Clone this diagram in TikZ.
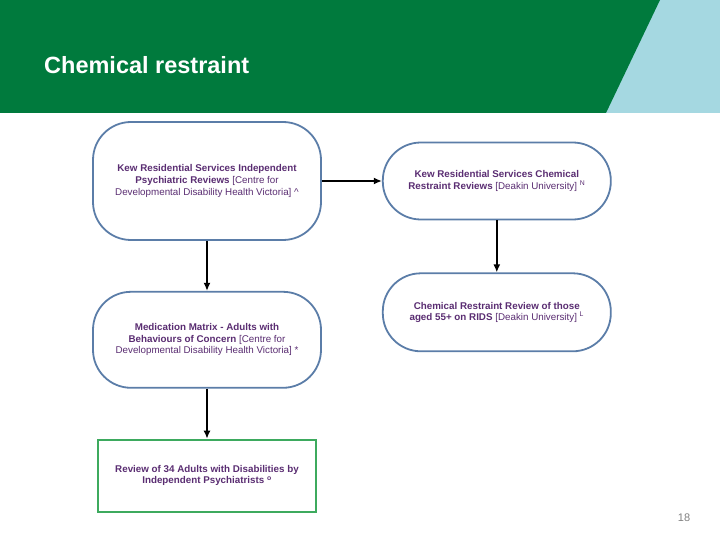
\documentclass[tikz,border=0pt]{standalone}
\usepackage{fontspec}
\setmainfont{Liberation Sans}
\usetikzlibrary{arrows.meta, positioning}
\definecolor{headgreen}{HTML}{007A3D}
\definecolor{headblue}{HTML}{A5D8E1}
\definecolor{boxline}{HTML}{5B7DA8}
\definecolor{textpurple}{HTML}{5A2D72}
\definecolor{greenline}{HTML}{3DAA5E}
\begin{document}
\begin{tikzpicture}[
    x=1pt, y=-1pt,
    node distance=50pt and 60pt,
    review/.style={draw=boxline, line width=1.8pt, rounded corners=38pt, fill=white,
      align=center, text=textpurple, font=\fontsize{9.8}{11.6}\selectfont,
      minimum width=228pt, inner sep=0pt},
    finalbox/.style={draw=greenline, line width=1.8pt, fill=white, align=center,
      text=textpurple, font=\fontsize{9.8}{11.6}\selectfont\bfseries,
      minimum width=218pt, minimum height=72pt, inner sep=0pt},
    arrow/.style={-{Latex[length=8pt,width=7pt]}, line width=1.6pt}
]
\useasboundingbox (0,0) rectangle (720,540);
% header band
\fill[headblue] (600,0) rectangle (720,113);
\fill[headgreen] (0,0) -- (660,0) -- (606,113) -- (0,113) -- cycle;
\node[anchor=base west, text=white, font=\fontsize{23.5}{27}\selectfont\bfseries, inner sep=0pt]
  (title) at (44,74) {Chemical restraint};
% reviews
\node[review, minimum height=118pt] (kewpsych) at (207,181)
  {\textbf{Kew Residential Services Independent}\\
   \textbf{Psychiatric Reviews} [Centre for\\
   Developmental Disability Health Victoria] \^{}};
\node[review, minimum height=77pt, right=of kewpsych] (kewchem)
  {\textbf{Kew Residential Services Chemical}\\
   \textbf{Restraint Reviews} [Deakin University] \textsuperscript{N}};
\node[review, minimum height=96pt, below=of kewpsych] (matrix)
  {\textbf{Medication Matrix - Adults with}\\
   \textbf{Behaviours of Concern} [Centre for\\
   Developmental Disability Health Victoria] *};
\node[review, minimum height=78pt, below=52pt of kewchem] (rids)
  {\textbf{Chemical Restraint Review of those}\\
   \textbf{aged 55+ on RIDS} [Deakin University] \textsuperscript{L}};
\node[finalbox, below=of matrix] (psych34)
  {Review of 34 Adults with Disabilities by\\
   Independent Psychiatrists \textsuperscript{o}};
% connectors
\draw[arrow] (kewpsych.east) -- (kewchem.west |- kewpsych.east);
\draw[arrow] (kewpsych.south) -- (matrix.north);
\draw[arrow] (kewchem.south) -- (rids.north);
\draw[arrow] (matrix.south) -- (psych34.north);
% page number
\node[text=gray, font=\fontsize{11}{13}\selectfont] (pagenum) at (684,518) {18};
\end{tikzpicture}
\end{document}
